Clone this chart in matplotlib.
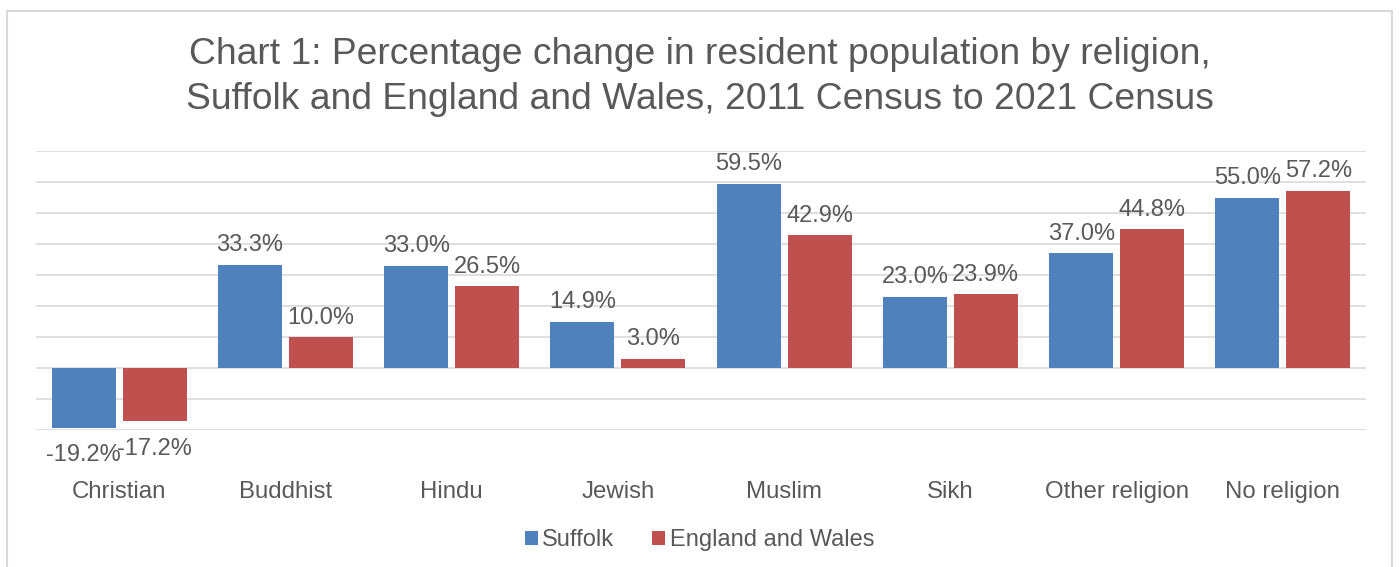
import numpy as np
import matplotlib.pyplot as plt
from matplotlib.patches import Rectangle

plt.rcParams['font.family'] = ['Liberation Sans', 'DejaVu Sans']

categories = ["Christian", "Buddhist", "Hindu", "Jewish", "Muslim", "Sikh",
              "Other religion", "No religion"]
suffolk = [-19.2, 33.3, 33.0, 14.9, 59.5, 23.0, 37.0, 55.0]
eng_wales = [-17.2, 10.0, 26.5, 3.0, 42.9, 23.9, 44.8, 57.2]

blue = "#4F81BD"
red = "#C0504D"
grey_text = "#595959"
grid_col = "#D9D9D9"

W, H = 1399, 567
fig = plt.figure(figsize=(W / 100, H / 100), dpi=100)
ax = fig.add_axes([36 / W, 1 - 430 / H, (1366 - 36) / W, (430 - 151) / H])

# chart frame
fig.patches.append(Rectangle((7 / W, -0.1), (1392 - 7) / W, 1.1 - 11 / H,
                             transform=fig.transFigure, fill=False,
                             edgecolor=grid_col, linewidth=1.5))

x = np.arange(len(categories))
bw = 0.385
off = 0.213
b1 = ax.bar(x - off, suffolk, bw, color=blue, label="Suffolk", zorder=3)
b2 = ax.bar(x + off, eng_wales, bw, color=red, label="England and Wales", zorder=3)

for bars, vals in ((b1, suffolk), (b2, eng_wales)):
    for rect, v in zip(bars, vals):
        cx = rect.get_x() + rect.get_width() / 2
        if v >= 0:
            ax.annotate(f"{v:.1f}%", (cx, v), xytext=(0, 6), textcoords="offset points",
                        ha="center", va="bottom", fontsize=17, color=grey_text)
        else:
            ax.annotate(f"{v:.1f}%", (cx, v), xytext=(0, -12), textcoords="offset points",
                        ha="center", va="top", fontsize=17, color=grey_text)

ax.set_xlim(-0.5, len(categories) - 0.5)
ax.set_ylim(-20, 70)
ax.set_yticks(np.arange(-20, 71, 10))
ax.yaxis.grid(True, color=grid_col, linewidth=1.2, zorder=0)
ax.set_axisbelow(True)
ax.tick_params(axis="y", left=False, labelleft=False)
ax.tick_params(axis="x", bottom=False, labelsize=17.3, labelcolor=grey_text, pad=33)
ax.set_xticks(x)
ax.set_xticklabels(categories)
for s in ax.spines.values():
    s.set_visible(False)

fig.text(0.5, 1 - 77 / H, "Chart 1: Percentage change in resident population by religion,\n"
         "Suffolk and England and Wales, 2011 Census to 2021 Census",
         ha="center", va="center", fontsize=26.8, color=grey_text, linespacing=1.36)

fig.legend(loc="center", bbox_to_anchor=(0.5, 1 - 540 / H), ncol=2, frameon=False,
           fontsize=17, labelcolor=grey_text, handlelength=0.55, handleheight=0.55,
           handletextpad=0.2, columnspacing=1.6)

fig.savefig("out.png", dpi=100)
